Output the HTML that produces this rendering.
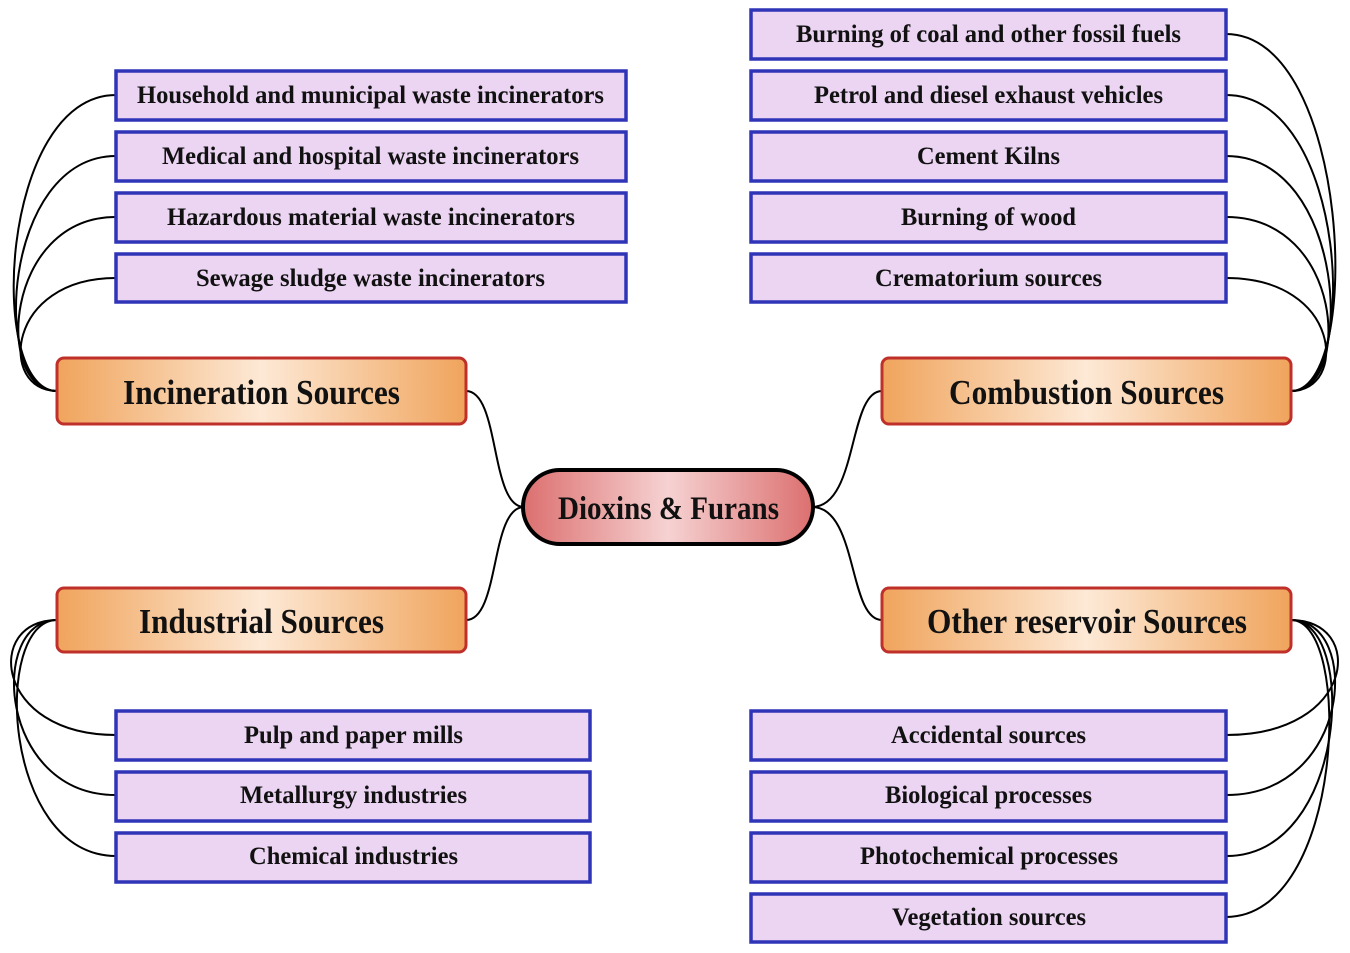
<!DOCTYPE html>
<html><head><meta charset="utf-8"><style>html,body{margin:0;padding:0;background:#fff}svg{display:block}</style></head><body>
<svg width="1350" height="953" viewBox="0 0 1350 953" xmlns="http://www.w3.org/2000/svg" font-family="'Liberation Serif', serif" font-weight="bold">
<defs>
<linearGradient id="og" x1="0" x2="1" y1="0" y2="0"><stop offset="0" stop-color="#f0a45c"/><stop offset="0.5" stop-color="#fde9d6"/><stop offset="1" stop-color="#f0a45c"/></linearGradient>
<linearGradient id="rg" x1="0" x2="1" y1="0" y2="0"><stop offset="0" stop-color="#dc6f6f"/><stop offset="0.5" stop-color="#f6d2d2"/><stop offset="1" stop-color="#dc6f6f"/></linearGradient>
</defs>
<g fill="none" stroke="#000" stroke-width="2">
<path d="M116,95 C0,95 -14,391 57,391"/><path d="M116,156 C2,156 -10,391 57,391"/><path d="M116,217 C4,217 -6,391 57,391"/><path d="M116,278 C6,278 -2,391 57,391"/>
<path d="M57,620 C-16,620 -6,735 116,735"/><path d="M57,620 C-12,620 -2,795 116,795"/><path d="M57,620 C-8,620 2,856 116,856"/>
<path d="M1226,34 C1350,34 1364,391 1291,391"/><path d="M1226,95 C1348,95 1360,391 1291,391"/><path d="M1226,156 C1346,156 1356,391 1291,391"/><path d="M1226,217 C1344,217 1352,391 1291,391"/><path d="M1226,278 C1342,278 1348,391 1291,391"/>
<path d="M1291,620 C1366,620 1356,735 1226,735"/><path d="M1291,620 C1362,620 1352,795 1226,795"/><path d="M1291,620 C1358,620 1348,856 1226,856"/><path d="M1291,620 C1354,620 1344,917 1226,917"/>
<path d="M466,391 C500,391 490,507 524,507"/><path d="M466,620 C500,620 490,507 524,507"/>
<path d="M882,391 C848,391 858,507 812,507"/><path d="M882,620 C848,620 858,507 812,507"/>
</g>
<g fill="#ecd5f3" stroke="#3035b8" stroke-width="3.5">
<rect x="116" y="71" width="510" height="49"/><rect x="116" y="132" width="510" height="49"/><rect x="116" y="193" width="510" height="49"/><rect x="116" y="254" width="510" height="48"/>
<rect x="751" y="10" width="475" height="49"/><rect x="751" y="71" width="475" height="49"/><rect x="751" y="132" width="475" height="49"/><rect x="751" y="193" width="475" height="49"/><rect x="751" y="254" width="475" height="48"/>
<rect x="116" y="711" width="474" height="49"/><rect x="116" y="772" width="474" height="49"/><rect x="116" y="833" width="474" height="49"/>
<rect x="751" y="711" width="475" height="49"/><rect x="751" y="772" width="475" height="49"/><rect x="751" y="833" width="475" height="49"/><rect x="751" y="894" width="475" height="48"/>
</g>
<g fill="url(#og)" stroke="#c0302a" stroke-width="3">
<rect x="57" y="358" width="409" height="66" rx="7"/><rect x="882" y="358" width="409" height="66" rx="7"/>
<rect x="57" y="588" width="409" height="64" rx="7"/><rect x="882" y="588" width="409" height="64" rx="7"/>
</g>
<rect x="523" y="470" width="290" height="74" rx="37" fill="url(#rg)" stroke="#000" stroke-width="4"/>
<g font-size="25" fill="#111">
<text x="137" y="103" textLength="467" lengthAdjust="spacingAndGlyphs">Household and municipal waste incinerators</text>
<text x="162" y="164" textLength="417" lengthAdjust="spacingAndGlyphs">Medical and hospital waste incinerators</text>
<text x="167" y="225" textLength="408" lengthAdjust="spacingAndGlyphs">Hazardous material waste incinerators</text>
<text x="196" y="286" textLength="349" lengthAdjust="spacingAndGlyphs">Sewage sludge waste incinerators</text>
<text x="796" y="42" textLength="385" lengthAdjust="spacingAndGlyphs">Burning of coal and other fossil fuels</text>
<text x="814" y="103" textLength="349" lengthAdjust="spacingAndGlyphs">Petrol and diesel exhaust vehicles</text>
<text x="917" y="164" textLength="143" lengthAdjust="spacingAndGlyphs">Cement Kilns</text>
<text x="901" y="225" textLength="175" lengthAdjust="spacingAndGlyphs">Burning of wood</text>
<text x="875" y="286" textLength="227" lengthAdjust="spacingAndGlyphs">Crematorium sources</text>
<text x="244" y="743" textLength="219" lengthAdjust="spacingAndGlyphs">Pulp and paper mills</text>
<text x="240" y="803" textLength="227" lengthAdjust="spacingAndGlyphs">Metallurgy industries</text>
<text x="249" y="864" textLength="209" lengthAdjust="spacingAndGlyphs">Chemical industries</text>
<text x="891" y="743" textLength="195" lengthAdjust="spacingAndGlyphs">Accidental sources</text>
<text x="885" y="803" textLength="207" lengthAdjust="spacingAndGlyphs">Biological processes</text>
<text x="860" y="864" textLength="258" lengthAdjust="spacingAndGlyphs">Photochemical processes</text>
<text x="892" y="925" textLength="194" lengthAdjust="spacingAndGlyphs">Vegetation sources</text>
</g>
<g font-size="35" fill="#111">
<text x="123" y="404" textLength="277" lengthAdjust="spacingAndGlyphs">Incineration Sources</text>
<text x="949" y="404" textLength="275" lengthAdjust="spacingAndGlyphs">Combustion Sources</text>
<text x="139" y="633" textLength="245" lengthAdjust="spacingAndGlyphs">Industrial Sources</text>
<text x="927" y="633" textLength="320" lengthAdjust="spacingAndGlyphs">Other reservoir Sources</text>
<text x="558" y="519" font-size="33" textLength="221" lengthAdjust="spacingAndGlyphs">Dioxins &amp; Furans</text>
</g>
</svg>
</body></html>
